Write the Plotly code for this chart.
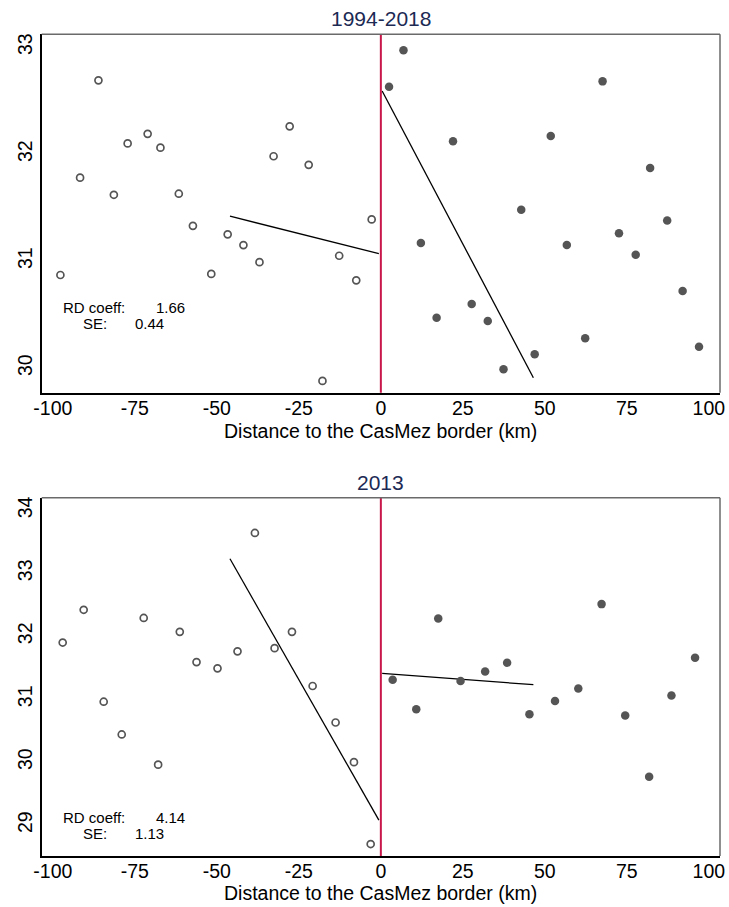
import plotly.graph_objects as go

# ---------------- data ----------------
# Panel 1: 1994-2018
p1_left_x = [-97.7, -91.7, -86.1, -81.4, -77.2, -71.1, -67.2, -61.6, -57.3, -51.7,
             -46.7, -41.9, -37.0, -32.7, -27.8, -22.0, -17.8, -12.7, -7.5, -2.8]
p1_left_y = [30.87, 31.78, 32.69, 31.62, 32.10, 32.19, 32.06, 31.63, 31.33, 30.88,
             31.25, 31.15, 30.99, 31.98, 32.26, 31.90, 29.88, 31.05, 30.82, 31.39]
p1_right_x = [2.5, 6.9, 12.2, 17.0, 22.0, 27.7, 32.6, 37.4, 42.8, 46.9,
              51.8, 56.7, 62.3, 67.6, 72.6, 77.7, 82.1, 87.3, 92.0, 97.0]
p1_right_y = [32.63, 32.97, 31.17, 30.47, 32.12, 30.60, 30.44, 29.99, 31.48, 30.13,
              32.17, 31.15, 30.28, 32.68, 31.26, 31.06, 31.87, 31.38, 30.72, 30.20]
p1_fit_left_x = [-46.0, -0.6]
p1_fit_left_y = [31.42, 31.07]
p1_fit_right_x = [0.4, 46.5]
p1_fit_right_y = [32.59, 29.91]

# Panel 2: 2013
p2_left_x = [-97.0, -90.6, -84.5, -79.0, -72.3, -67.9, -61.3, -56.2, -49.8, -43.7,
             -38.4, -32.4, -27.1, -20.8, -13.8, -8.2, -3.1]
p2_left_y = [31.90, 32.42, 30.96, 30.44, 32.29, 29.96, 32.07, 31.59, 31.49, 31.76,
             33.64, 31.81, 32.07, 31.21, 30.63, 30.00, 28.70]
p2_right_x = [3.6, 10.8, 17.5, 24.3, 31.8, 38.5, 45.3, 53.1, 60.2, 67.3,
              74.5, 81.8, 88.6, 95.8]
p2_right_y = [31.31, 30.84, 32.28, 31.29, 31.44, 31.58, 30.76, 30.97, 31.17, 32.51,
              30.74, 29.77, 31.06, 31.66]
p2_fit_left_x = [-46.0, -0.6]
p2_fit_left_y = [33.23, 29.08]
p2_fit_right_x = [0.4, 46.5]
p2_fit_right_y = [31.41, 31.23]

panel_titles = ["1994-2018", "2013"]
rd_coeff = ["1.66", "4.14"]
rd_se = ["0.44", "1.13"]
x_ticks = [-100, -75, -50, -25, 0, 25, 50, 75, 100]
x_tick_labels = ["-100", "-75", "-50", "-25", "0", "25", "50", "75", "100"]
p1_y_ticks = [30, 31, 32, 33]
p2_y_ticks = [29, 30, 31, 32, 33, 34]
x_title = "Distance to the CasMez border (km)"

# ---------------- figure ----------------
W, H = 729, 907
FONT = "Liberation Sans, Arial, Helvetica, sans-serif"
NAVY = "#1c2a54"
GRAY = "#555555"
RED = "#c8174a"

def px(x):
    return x / W

def py(y):
    return 1 - y / H

fig = go.Figure()

panels = [
    dict(lx=p1_left_x, ly=p1_left_y, rx=p1_right_x, ry=p1_right_y,
         flx=p1_fit_left_x, fly=p1_fit_left_y, frx=p1_fit_right_x, fry=p1_fit_right_y,
         xa="x", ya="y"),
    dict(lx=p2_left_x, ly=p2_left_y, rx=p2_right_x, ry=p2_right_y,
         flx=p2_fit_left_x, fly=p2_fit_left_y, frx=p2_fit_right_x, fry=p2_fit_right_y,
         xa="x2", ya="y2"),
]

for p in panels:
    fig.add_trace(go.Scatter(x=p["flx"], y=p["fly"], mode="lines",
                             line=dict(color="black", width=1.3),
                             xaxis=p["xa"], yaxis=p["ya"], showlegend=False, hoverinfo="skip"))
    fig.add_trace(go.Scatter(x=p["frx"], y=p["fry"], mode="lines",
                             line=dict(color="black", width=1.3),
                             xaxis=p["xa"], yaxis=p["ya"], showlegend=False, hoverinfo="skip"))
    fig.add_trace(go.Scatter(x=p["lx"], y=p["ly"], mode="markers",
                             marker=dict(symbol="circle-open", size=7, color=GRAY,
                                         line=dict(width=1.7, color=GRAY)),
                             xaxis=p["xa"], yaxis=p["ya"], showlegend=False))
    fig.add_trace(go.Scatter(x=p["rx"], y=p["ry"], mode="markers",
                             marker=dict(symbol="circle", size=8.5, color=GRAY,
                                         line=dict(width=0)),
                             xaxis=p["xa"], yaxis=p["ya"], showlegend=False))

xdom = [px(41.7), px(720)]
top_dom = [py(392.7), py(34.3)]
bot_dom = [py(856), py(497.7)]

axis_common = dict(showgrid=False, zeroline=False, showline=True, linecolor="black",
                   linewidth=1.6, ticks="", automargin=False,
                   tickfont=dict(family=FONT, size=19.5, color="black"))

fig.update_layout(
    width=W, height=H,
    margin=dict(l=0, r=0, t=0, b=0),
    paper_bgcolor="white", plot_bgcolor="white",
    showlegend=False,
    xaxis=dict(domain=xdom, range=[-103.4, 103.4], tickvals=x_ticks, ticktext=x_tick_labels,
               ticklabelstandoff=-3, anchor="y", **axis_common),
    yaxis=dict(domain=top_dom, range=[29.77, 33.12], tickvals=p1_y_ticks, tickangle=-90,
               anchor="x", **axis_common),
    xaxis2=dict(domain=xdom, range=[-103.4, 103.4], tickvals=x_ticks, ticktext=x_tick_labels,
                ticklabelstandoff=-3, anchor="y2", **axis_common),
    yaxis2=dict(domain=bot_dom, range=[28.51, 34.2], tickvals=p2_y_ticks, tickangle=-90,
                anchor="x2", **axis_common),
)

shapes = []
for xr, yr in [("x", "y"), ("x2", "y2")]:
    # red cutoff line at 0
    shapes.append(dict(type="line", xref=xr, yref=f"{yr} domain", x0=0, x1=0, y0=0, y1=1,
                       line=dict(color=RED, width=2), layer="above"))
    # top & right frame (gray)
    shapes.append(dict(type="line", xref=f"{xr} domain", yref=f"{yr} domain",
                       x0=0, x1=1, y0=1, y1=1, line=dict(color="#6a6a6a", width=1.5)))
    shapes.append(dict(type="line", xref=f"{xr} domain", yref=f"{yr} domain",
                       x0=1, x1=1, y0=0, y1=1, line=dict(color="#6a6a6a", width=1.5)))
fig.update_layout(shapes=shapes)

ann = []
title_y = [19, 482.5]
xtitle_y = [430.5, 893]
rd_y = [(308, 323.5), (817.5, 833.5)]
for i in range(2):
    ann.append(dict(text=panel_titles[i], x=px(381), y=py(title_y[i]), xref="paper", yref="paper",
                    xanchor="center", yanchor="middle", showarrow=False,
                    font=dict(family=FONT, size=21, color=NAVY)))
    ann.append(dict(text=x_title, x=px(381), y=py(xtitle_y[i]), xref="paper", yref="paper",
                    xanchor="center", yanchor="middle", showarrow=False,
                    font=dict(family=FONT, size=19.5, color="black")))
    f = dict(family=FONT, size=15, color="black")
    ann.append(dict(text="RD coeff:", x=px(60.7), y=py(rd_y[i][0]), xref="paper", yref="paper",
                    xanchor="left", yanchor="middle", showarrow=False, font=f))
    ann.append(dict(text=rd_coeff[i], x=px(154), y=py(rd_y[i][0]), xref="paper", yref="paper",
                    xanchor="left", yanchor="middle", showarrow=False, font=f))
    ann.append(dict(text="SE:", x=px(81), y=py(rd_y[i][1]), xref="paper", yref="paper",
                    xanchor="left", yanchor="middle", showarrow=False, font=f))
    ann.append(dict(text=rd_se[i], x=px(133.3), y=py(rd_y[i][1]), xref="paper", yref="paper",
                    xanchor="left", yanchor="middle", showarrow=False, font=f))
fig.update_layout(annotations=ann)

fig.write_html("out.html")
